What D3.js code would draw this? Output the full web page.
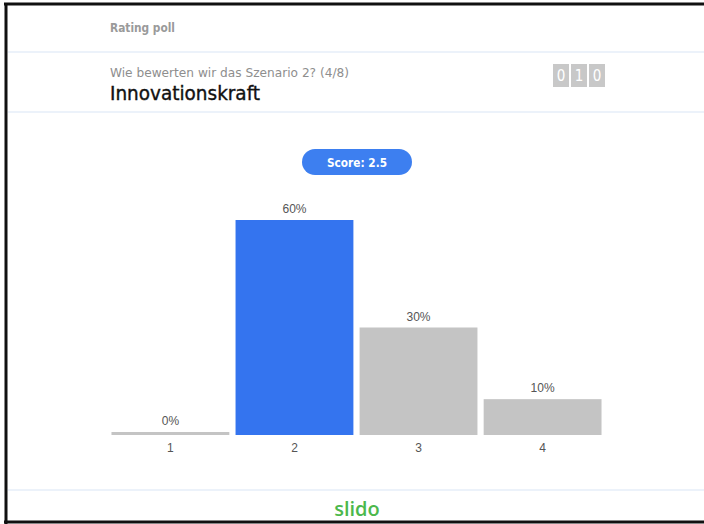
<!DOCTYPE html>
<html>
<head>
<meta charset="utf-8">
<script src="https://cdn.jsdelivr.net/npm/d3@7"></script>
<style>
  body { margin: 0; background: #fff; }
  svg { display: block; }
</style>
</head>
<body>
<div id="chart"></div>
<script>
// poll data
var categories = ["1", "2", "3", "4"];
var shares = [0, 60, 30, 10];
var highlight = "2";
var pollType = "Rating poll";
var question = "Wie bewerten wir das Szenario 2? (4/8)";
var title = "Innovationskraft";
var score = "Score: 2.5";
var counterDigits = ["0", "1", "0"];

const width = 704,
    height = 524,
    narrow = "'DejaVu Sans Condensed', 'Liberation Sans Narrow', Arial, sans-serif",
    plain = "Arial, 'Liberation Sans', sans-serif",
    sepColor = "#e6eef9";

var svg = d3.select("#chart").append("svg")
    .attr("width", width)
    .attr("height", height);

// frame
svg.append("rect").attr("x", 0).attr("y", 0).attr("width", width).attr("height", height).attr("fill", "#fff");
svg.append("line").attr("x1", 4).attr("x2", width).attr("y1", 4).attr("y2", 4)
    .attr("stroke", "#111").attr("stroke-width", 3);
svg.append("line").attr("x1", 6).attr("x2", 6).attr("y1", 3).attr("y2", height)
    .attr("stroke", "#111").attr("stroke-width", 3);
svg.append("line").attr("x1", 4).attr("x2", width).attr("y1", 522).attr("y2", 522)
    .attr("stroke", "#111").attr("stroke-width", 3);

// separators
[52, 112, 490].forEach(function(y) {
    svg.append("line").attr("x1", 8).attr("x2", width).attr("y1", y).attr("y2", y)
        .attr("stroke", sepColor).attr("stroke-width", 1.5);
});

// header texts
svg.append("text").attr("x", 110).attr("y", 32)
    .style("font-family", narrow).style("font-size", "12px").style("font-weight", "bold")
    .attr("textLength", 65).attr("lengthAdjust", "spacingAndGlyphs")
    .attr("fill", "#9a9a9a").text(pollType);
svg.append("text").attr("x", 110).attr("y", 77)
    .style("font-family", narrow).style("font-size", "12.5px")
    .attr("textLength", 239).attr("lengthAdjust", "spacingAndGlyphs")
    .attr("fill", "#8e8e8e").text(question);
svg.append("text").attr("x", 110).attr("y", 100)
    .style("font-family", narrow).style("font-size", "19px")
    .attr("textLength", 150).attr("lengthAdjust", "spacingAndGlyphs")
    .attr("stroke", "#111").attr("stroke-width", 0.35)
    .attr("fill", "#111").text(title);

// participant counter
var counter = svg.append("g").attr("transform", "translate(553,64)");
counter.selectAll("rect").data(counterDigits).enter().append("rect")
    .attr("x", function(d, i) { return i * 18; })
    .attr("y", 0).attr("width", 16).attr("height", 23)
    .attr("fill", "#c8c8c8");
counter.selectAll("text").data(counterDigits).enter().append("text")
    .attr("x", function(d, i) { return i * 18 + 8; })
    .attr("y", 17).attr("text-anchor", "middle")
    .style("font-family", narrow).style("font-size", "15px")
    .attr("fill", "#fff").text(function(d) { return d; });

// score pill
svg.append("rect").attr("x", 302).attr("y", 149).attr("width", 110).attr("height", 26)
    .attr("rx", 13).attr("fill", "#3d7ff0");
svg.append("text").attr("x", 357).attr("y", 166.5).attr("text-anchor", "middle")
    .style("font-family", narrow).style("font-size", "13px").style("font-weight", "bold")
    .attr("textLength", 60).attr("lengthAdjust", "spacingAndGlyphs")
    .attr("fill", "#fff").text(score);

// bars
var x = d3.scaleBand().domain(categories).range([109, 604]).paddingInner(0.05).paddingOuter(0.02);
var y = d3.scaleLinear().domain([0, 60]).range([435, 220]);

var bars = svg.append("g");
bars.selectAll("rect").data(categories).enter().append("rect")
    .attr("x", function(d) { return x(d); })
    .attr("width", x.bandwidth())
    .attr("y", function(d, i) { return Math.min(y(shares[i]), 432); })
    .attr("height", function(d, i) { return Math.max(435 - y(shares[i]), 3); })
    .attr("fill", function(d) { return d == highlight ? "#3474ef" : "#c4c4c4"; });

bars.selectAll("text.val").data(categories).enter().append("text")
    .attr("class", "val")
    .attr("x", function(d) { return x(d) + x.bandwidth() / 2; })
    .attr("y", function(d, i) { return Math.min(y(shares[i]), 432) - 7; })
    .attr("text-anchor", "middle")
    .style("font-family", plain).style("font-size", "12px")
    .attr("fill", "#555").text(function(d, i) { return shares[i] + "%"; });

// category axis
var axis = svg.append("g").attr("transform", "translate(0,435)")
    .call(d3.axisBottom(x).tickSize(0).tickPadding(8));
axis.select(".domain").remove();
axis.selectAll("text").style("font-family", plain).style("font-size", "12px").attr("fill", "#555");

// footer logo
svg.append("text").attr("x", 357).attr("y", 516).attr("text-anchor", "middle")
    .style("font-family", "'Open Sans', Arial, sans-serif").style("font-size", "20px").style("font-weight", "600")
    .attr("fill", "#4cb84c").text("slido");
</script>
</body>
</html>
